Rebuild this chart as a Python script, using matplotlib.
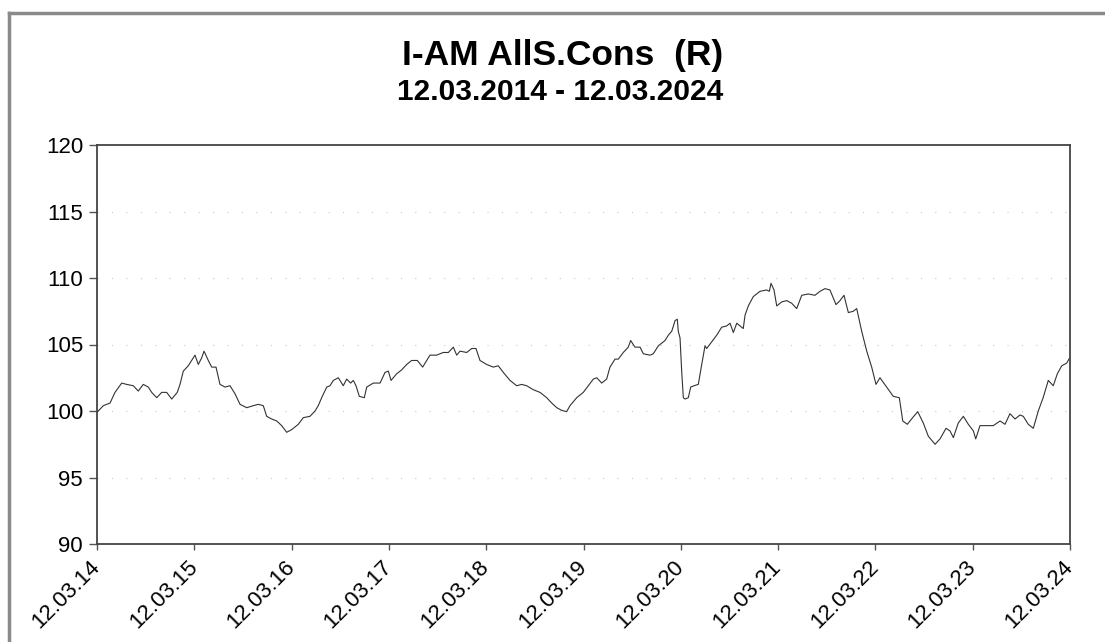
import matplotlib
matplotlib.use("Agg")
import matplotlib.pyplot as plt
from matplotlib.lines import Line2D

# years elapsed since 12.03.2014
years = [0.00, 0.065, 0.134, 0.185, 0.254, 0.305, 0.373, 0.424, 0.476, 0.527, 0.562, 0.614, 0.665, 0.716,
         0.768, 0.825, 0.853, 0.887, 0.938, 0.973, 1.007, 1.041, 1.076, 1.100, 1.144, 1.179, 1.223, 1.264,
         1.316, 1.367, 1.418, 1.470, 1.539, 1.606, 1.658, 1.709, 1.744, 1.795, 1.847, 1.898, 1.950, 2.001,
         2.069, 2.120, 2.189, 2.241, 2.274, 2.309, 2.361, 2.395, 2.429, 2.480, 2.531, 2.566, 2.607, 2.634,
         2.662, 2.696, 2.747, 2.772, 2.840, 2.909, 2.960, 2.994, 3.022, 3.080, 3.132, 3.183, 3.234, 3.292,
         3.347, 3.388, 3.422, 3.491, 3.559, 3.611, 3.662, 3.697, 3.731, 3.800, 3.851, 3.895, 3.936, 4.005,
         4.073, 4.124, 4.176, 4.245, 4.313, 4.365, 4.416, 4.484, 4.553, 4.622, 4.673, 4.725, 4.776, 4.827,
         4.861, 4.930, 4.998, 5.049, 5.101, 5.136, 5.187, 5.238, 5.272, 5.324, 5.358, 5.409, 5.460, 5.485,
         5.529, 5.581, 5.615, 5.684, 5.717, 5.769, 5.838, 5.872, 5.907, 5.941, 5.964, 5.974, 5.992, 6.009,
         6.026, 6.043, 6.077, 6.102, 6.136, 6.180, 6.215, 6.249, 6.266, 6.318, 6.369, 6.420, 6.472, 6.506,
         6.540, 6.575, 6.608, 6.642, 6.660, 6.694, 6.745, 6.814, 6.883, 6.910, 6.927, 6.958, 6.986, 7.037,
         7.088, 7.140, 7.191, 7.243, 7.310, 7.379, 7.431, 7.482, 7.533, 7.595, 7.636, 7.677, 7.722, 7.773,
         7.808, 7.859, 7.911, 7.962, 8.006, 8.047, 8.116, 8.184, 8.246, 8.281, 8.328, 8.383, 8.435, 8.492,
         8.544, 8.613, 8.664, 8.726, 8.767, 8.801, 8.852, 8.904, 8.955, 9.007, 9.031, 9.075, 9.144, 9.212,
         9.281, 9.332, 9.383, 9.435, 9.486, 9.520, 9.571, 9.623, 9.674, 9.724, 9.777, 9.828, 9.870, 9.915,
         9.966, 9.993]

values = [99.9, 100.4, 100.6, 101.4, 102.1, 102.0, 101.9, 101.5, 102.0, 101.8, 101.4, 101.0, 101.4, 101.4,
          100.9, 101.4, 102.0, 103.0, 103.4, 103.8, 104.2, 103.5, 104.0, 104.5, 103.8, 103.3, 103.3, 102.0,
          101.8, 101.9, 101.3, 100.5, 100.25, 100.4, 100.5, 100.4, 99.6, 99.4, 99.25, 98.9, 98.4, 98.6,
          99.0, 99.5, 99.6, 100.0, 100.4, 101.0, 101.8, 101.9, 102.3, 102.5, 101.9, 102.4, 102.1, 102.3,
          101.9, 101.1, 101.0, 101.8, 102.1, 102.1, 102.9, 103.0, 102.3, 102.8, 103.1, 103.5, 103.8, 103.8,
          103.3, 103.8, 104.2, 104.2, 104.4, 104.4, 104.8, 104.2, 104.5, 104.4, 104.7, 104.7, 103.8, 103.5,
          103.3, 103.4, 102.9, 102.3, 101.9, 102.0, 101.9, 101.6, 101.4, 101.0, 100.6, 100.25, 100.05, 99.95,
          100.4, 101.0, 101.4, 101.9, 102.4, 102.5, 102.1, 102.4, 103.3, 103.9, 103.9, 104.4, 104.8, 105.3,
          104.8, 104.8, 104.3, 104.2, 104.3, 104.9, 105.3, 105.7, 106.0, 106.8, 106.9, 106.0, 105.5, 103.0,
          101.0, 100.9, 101.0, 101.8, 101.9, 102.0, 103.5, 104.9, 104.7, 105.2, 105.7, 106.3, 106.4, 106.6,
          105.9, 106.6, 106.4, 106.2, 107.2, 107.9, 108.6, 109.0, 109.1, 109.0, 109.6, 109.1, 107.9, 108.2,
          108.3, 108.1, 107.7, 108.7, 108.8, 108.7, 109.0, 109.2, 109.1, 108.0, 108.3, 108.7, 107.4, 107.5,
          107.7, 106.0, 104.5, 103.3, 102.0, 102.5, 101.8, 101.1, 101.0, 99.25, 99.0, 99.5, 99.95, 99.1,
          98.1, 97.5, 97.9, 98.7, 98.5, 98.0, 99.1, 99.6, 99.0, 98.5, 97.9, 98.9, 98.9, 98.9,
          99.25, 99.0, 99.8, 99.4, 99.7, 99.6, 99.0, 98.7, 100.0, 101.0, 102.3, 101.9, 102.8, 103.4,
          103.6, 103.95]

x_tick_labels = ["12.03.14", "12.03.15", "12.03.16", "12.03.17", "12.03.18", "12.03.19",
                 "12.03.20", "12.03.21", "12.03.22", "12.03.23", "12.03.24"]
y_ticks = [90, 95, 100, 105, 110, 115, 120]
title_line1 = "I-AM AllS.Cons  (R)"
title_line2 = "12.03.2014 - 12.03.2024"

plt.rcParams['font.family'] = ['Liberation Sans', 'DejaVu Sans']

fig = plt.figure(figsize=(11.05, 6.42), dpi=100)
fig.patch.set_facecolor('white')
ax = fig.add_axes([97/1105, 1 - 544/642, (1070 - 97)/1105, (544 - 145)/642])

ax.plot(years, values, color='#333333', lw=0.8)

ax.set_xlim(0, 10)
ax.set_ylim(90, 120)
ax.set_xticks(range(len(x_tick_labels)))
ax.set_xticklabels(x_tick_labels, rotation=45, ha='right', va='center',
                   rotation_mode='anchor', fontsize=16)
ax.set_yticks(y_ticks)
ax.set_yticklabels([str(v) for v in y_ticks], fontsize=16)
ax.tick_params(axis='y', direction='out', length=6, width=1, color='#555555', pad=4)
ax.tick_params(axis='x', direction='out', length=4, width=1, color='#555555', pad=10)

for s in ax.spines.values():
    s.set_color('#444444')
    s.set_linewidth(1.3)

for v in [95, 100, 105, 110, 115]:
    ax.axhline(v, color='#c8c8c8', lw=0.8, linestyle=(0, (1, 12)), zorder=0)

fig.text(0.509, 1 - 56/642, title_line1, ha='center', va='center', fontsize=25.5, fontweight='bold')
fig.text(0.507, 1 - 92/642, title_line2, ha='center', va='center', fontsize=21.5, fontweight='bold')

# scanned frame border (top and left)
fig.add_artist(Line2D([9/1105, 1.0], [1 - 13/642, 1 - 13/642], transform=fig.transFigure,
                      color='#8a8a8a', lw=2.5))
fig.add_artist(Line2D([9/1105, 9/1105], [0.0, 1 - 13/642], transform=fig.transFigure,
                      color='#8a8a8a', lw=2.5))

fig.savefig("out.png", dpi=100, facecolor='white')
